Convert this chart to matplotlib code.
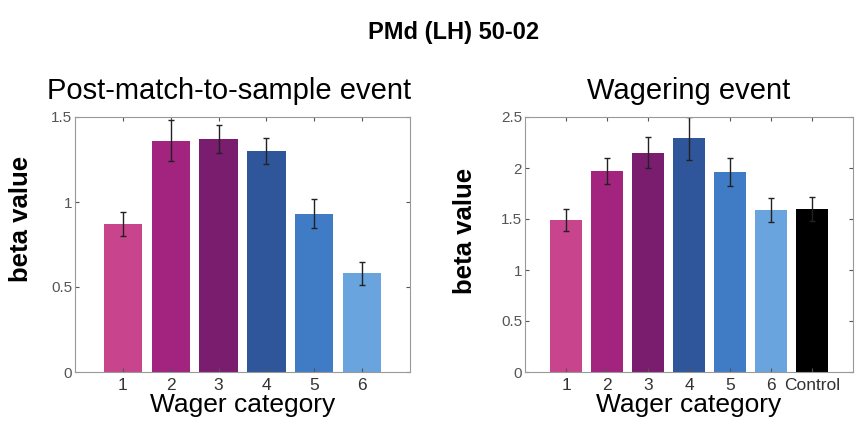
import numpy as np
import matplotlib
matplotlib.use("Agg")
from matplotlib import pyplot as plt

plt.rcParams['font.family'] = ['Liberation Sans', 'DejaVu Sans']

# post-match-to-sample event
pm_labels = ['1', '2', '3', '4', '5', '6']
pm_beta = [0.87, 1.36, 1.37, 1.30, 0.93, 0.58]
pm_err = [0.07, 0.12, 0.08, 0.075, 0.085, 0.07]

# wagering event
wg_labels = ['1', '2', '3', '4', '5', '6', 'Control']
wg_beta = [1.49, 1.97, 2.15, 2.29, 1.96, 1.59, 1.60]
wg_err = [0.105, 0.13, 0.15, 0.21, 0.14, 0.12, 0.115]

cols = ['#c8448c', '#a2247f', '#7a1d6e', '#2f569b', '#3f7cc5', '#69a4de', '#000000']

fig = plt.figure(figsize=(8.55, 4.32), dpi=100)
fig.text(0.53, 0.925, 'PMd (LH) 50-02', ha='center', va='center',
         fontsize=17, fontweight='bold')

ax1 = fig.add_axes([75/855, 1-372/432, 335/855, 255/432])
ax2 = fig.add_axes([525/855, 1-372/432, 328/855, 255/432])


def draw(ax, labels, vals, errs, ymax, yt, title, tx, ylx, yly):
    x = np.arange(1, len(vals)+1)
    ax.bar(x, vals, width=0.8, color=cols[:len(vals)], edgecolor='none')
    ax.errorbar(x, vals, yerr=errs, fmt='none', ecolor='#222222',
                elinewidth=1, capsize=2, capthick=1)
    ax.set_xlim(0, len(vals)+1)
    ax.set_ylim(0, ymax)
    ax.set_xticks(x)
    ax.set_xticklabels(labels)
    ax.set_yticks(yt)
    ax.set_yticklabels([('%g' % v) for v in yt])
    ax.tick_params(direction='in', length=3, labelsize=11, colors='#555555',
                   top=True, right=True, pad=2)
    ax.tick_params(axis='x', labelsize=12.5, labelcolor='#333333', pad=4)
    for s in ax.spines.values():
        s.set_color('#999999')
        s.set_linewidth(0.8)
    ax.set_title(title, fontsize=21, pad=13, x=tx)
    ax.set_xlabel('Wager category', fontsize=19, labelpad=0)
    ax.set_ylabel('beta value', fontsize=18.5, fontweight='bold')
    ax.yaxis.set_label_coords(ylx, yly)


draw(ax1, pm_labels, pm_beta, pm_err, 1.5, [0, 0.5, 1, 1.5],
     'Post-match-to-sample event', 0.46, -0.125, 0.6)
draw(ax2, wg_labels, wg_beta, wg_err, 2.5, [0, 0.5, 1, 1.5, 2, 2.5],
     'Wagering event', 0.5, -0.146, 0.555)

fig.savefig('out.png', dpi=100)
